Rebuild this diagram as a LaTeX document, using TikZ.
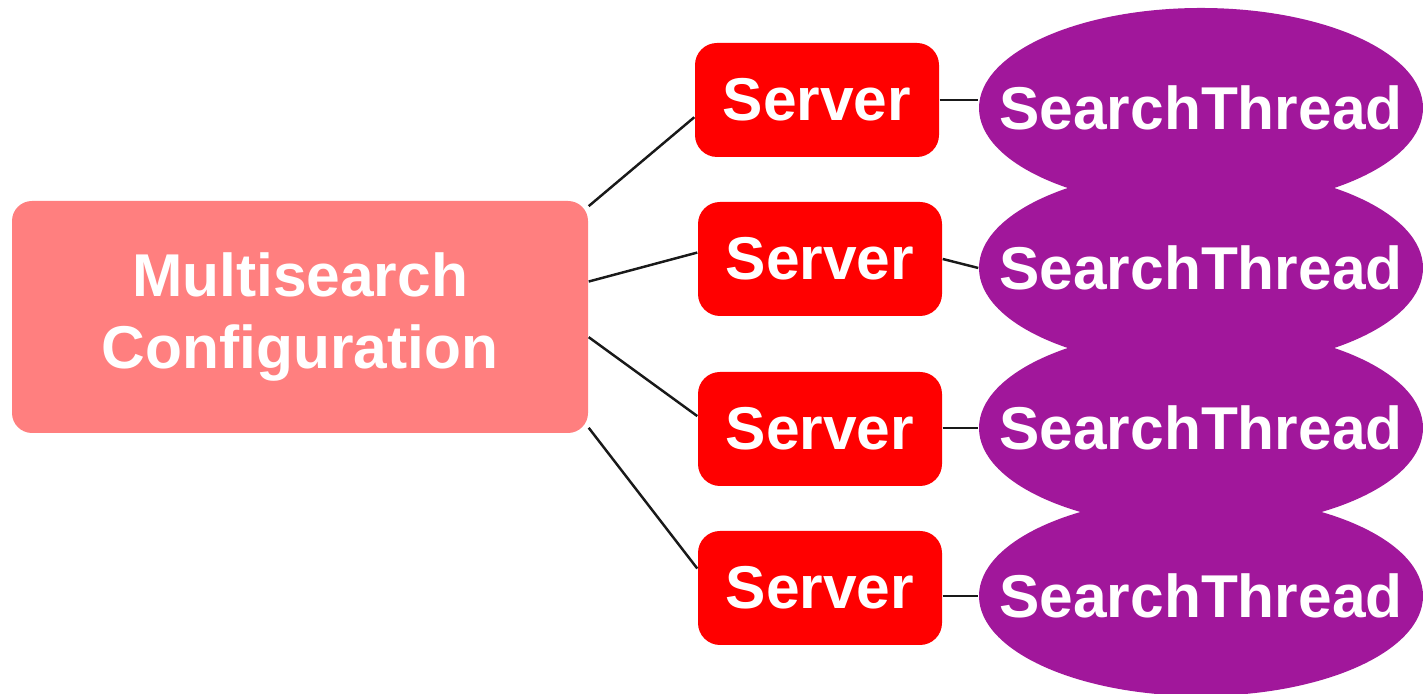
\documentclass[tikz,border=0pt]{standalone}
\usepackage{fontspec}
\setmainfont{Liberation Sans}
\usepackage{tikz}
\usetikzlibrary{shapes}

\definecolor{confred}{RGB}{255,127,127}
\definecolor{servred}{RGB}{255,0,0}
\definecolor{thrpurple}{RGB}{161,23,155}

\tikzset{
	conf/.style={rectangle, rounded corners=0.2cm, fill=confred, text=white,
		minimum width=5.76cm, minimum height=2.32cm, align=center},
	serv/.style={rectangle, rounded corners=0.22cm, fill=servred, text=white,
		minimum width=2.44cm, minimum height=1.14cm},
	% the ellipse keeps its size, the text sits on top as a label
	thr/.style={ellipse, fill=thrpurple, inner sep=0pt,
		minimum width=4.44cm, minimum height=2.0cm,
		label={[text=white]center:#1}}
}

\begin{document}
\begin{tikzpicture}[font=\fontsize{17.2}{20.5}\selectfont\bfseries]
		\useasboundingbox (0,0) rectangle (14.23,6.94);

		\node[conf] (M) at (3.00,3.77) {Multisearch\\Configuration};

		\node[serv] (S1) at (8.17,5.94) {Server};
		\node[serv] (S2) at (8.20,4.35) {Server};
		\node[serv] (S3) at (8.20,2.65) {Server};
		\node[serv] (S4) at (8.20,1.06) {Server};

		\node[thr=SearchThread] (T1) at (12.01,5.86) {};
		\node[thr=SearchThread] (T2) at (12.01,4.26) {};
		\node[thr=SearchThread] (T3) at (12.01,2.66) {};
		\node[thr=SearchThread] (T4) at (12.01,0.98) {};
		%
		\path[-,draw=black!90,line width=0.7pt]
		(M.21) edge (S1.188)
		(M.7) edge (S2.177)
		(M.-4) edge (S3.174)
		(M.-21) edge (S4.171)

		(S1.east) edge (S1.east -| T1.west)
		(S2.east) edge (T2.west)
		(S3.east |- T3.west) edge (T3.west)
		(S4.east |- T4.west) edge (T4.west);

	\end{tikzpicture}
\end{document}
